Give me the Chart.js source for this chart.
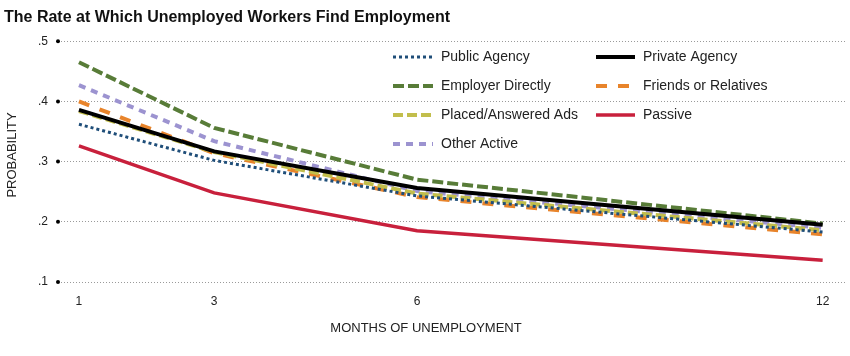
<!DOCTYPE html>
<html><head><meta charset="utf-8">
<script src="https://cdn.jsdelivr.net/npm/chart.js@4.4.1/dist/chart.umd.min.js"></script>
<style>html,body{margin:0;padding:0;background:#fff}#wrap{width:850px;height:356px;position:relative}</style>
</head><body><div id="wrap"><canvas id="c" width="850" height="356"></canvas></div>
<script>
const months = [1, 3, 6, 12];
const yTickValues = [0.1, 0.2, 0.3, 0.4, 0.5];
const seriesNames = ["Public Agency", "Private Agency", "Employer Directly", "Friends or Relatives", "Placed/Answered Ads", "Passive", "Other Active"];
const publicAgency  = [0.362, 0.302, 0.243, 0.183];
const privateAgency = [0.386, 0.317, 0.256, 0.195];
const employerDirectly = [0.465, 0.356, 0.270, 0.197];
const friendsRelatives = [0.400, 0.314, 0.241, 0.179];
const placedAds = [0.384, 0.316, 0.247, 0.186];
const passive = [0.326, 0.248, 0.185, 0.136];
const otherActive = [0.427, 0.334, 0.251, 0.190];
const chartTitle = "The Rate at Which Unemployed Workers Find Employment";
const xTitle = "MONTHS OF UNEMPLOYMENT";
const yTitle = "PROBABILITY";

const styles = [
  {color:'#1f4e79', width:3, dash:[3,3], order:1},
  {color:'#000000', width:4, dash:[], order:0},
  {color:'#587c38', width:4, dash:[11,4], order:3},
  {color:'#e8842b', width:4, dash:[11,11], order:5},
  {color:'#c2be4c', width:4, dash:[10,4], order:4},
  {color:'#c8203c', width:3.5, dash:[], order:2},
  {color:'#9c93d0', width:4, dash:[7,6], order:6}
];
const seriesValues = [publicAgency, privateAgency, employerDirectly, friendsRelatives, placedAds, passive, otherActive];

const datasets = seriesNames.map((n, i) => ({
  label: n,
  data: months.map((m, j) => ({x: m, y: seriesValues[i][j]})),
  borderColor: styles[i].color,
  borderWidth: styles[i].width,
  borderDash: styles[i].dash,
  borderCapStyle: 'butt',
  pointRadius: 0,
  tension: 0,
  fill: false,
  order: styles[i].order
}));

const FONT = "'Liberation Sans', Arial, sans-serif";

const extras = {
  id: 'extras',
  afterDraw(chart) {
    const ctx = chart.ctx;
    const ys = chart.scales.y;
    const area = chart.chartArea;
    ctx.save();
    ctx.fillStyle = '#000';
    yTickValues.forEach(v => {
      const y = ys.getPixelForValue(v);
      ctx.beginPath();
      ctx.arc(area.left, y, 2, 0, Math.PI * 2);
      ctx.fill();
    });
    // axis titles
    ctx.fillStyle = '#222';
    ctx.font = "13px " + FONT;
    ctx.textAlign = 'center';
    ctx.textBaseline = 'middle';
    ctx.fillText(xTitle, 426, 328);
    ctx.save();
    ctx.translate(12, 155);
    ctx.rotate(-Math.PI / 2);
    ctx.fillText(yTitle, 0, 0);
    ctx.restore();
    // legend
    ctx.font = "14px " + FONT;
    ctx.textBaseline = 'middle';
    ctx.textAlign = 'left';
    seriesNames.forEach((n, i) => {
      const col = i % 2, row = Math.floor(i / 2);
      const x0 = col === 0 ? 393 : 596;
      const x1 = col === 0 ? 433 : 635;
      const tx = col === 0 ? 441 : 643;
      const y = 57 + row * 29;
      ctx.beginPath();
      ctx.setLineDash(styles[i].dash);
      ctx.lineCap = 'butt';
      ctx.strokeStyle = styles[i].color;
      ctx.lineWidth = styles[i].width;
      ctx.moveTo(x0, y);
      ctx.lineTo(x1, y);
      ctx.stroke();
      ctx.setLineDash([]);
      ctx.fillStyle = '#222';
      ctx.fillText(n, tx, y + 0.5);
    });
    ctx.restore();
  }
};

new Chart(document.getElementById('c'), {
  type: 'line',
  data: {datasets},
  plugins: [extras],
  options: {
    responsive: false,
    animation: false,
    layout: {padding: {left: 4, right: 3, top: 0, bottom: 0}},
    plugins: {
      legend: {display: false},
      tooltip: {enabled: false},
      title: {
        display: true, text: chartTitle, align: 'start', color: '#111',
        font: {family: FONT, size: 16, weight: 'bold'},
        padding: {top: 8, bottom: 14}
      }
    },
    scales: {
      x: {
        type: 'linear', min: 0.69, max: 12.36,
        afterBuildTicks: s => { s.ticks = months.map(v => ({value: v})); },
        afterFit: s => { s.height = 356 - 282; },
        grid: {display: false, drawTicks: false},
        border: {display: false},
        ticks: {color: '#222', font: {family: FONT, size: 12}, padding: 12, maxRotation: 0},
        title: {display: false}
      },
      y: {
        min: 0.1, max: 0.5,
        afterBuildTicks: s => { s.ticks = yTickValues.map(v => ({value: v})); },
        afterFit: s => { s.width = 54; },
        grid: {color: '#9a9a9a', lineWidth: 1, drawTicks: false},
        border: {display: false, dash: [1, 2]},
        ticks: {color: '#222', font: {family: FONT, size: 12}, padding: 10,
          callback: v => v.toFixed(1).replace(/^0/, '')},
        title: {display: false}
      }
    }
  }
});
</script></body></html>
